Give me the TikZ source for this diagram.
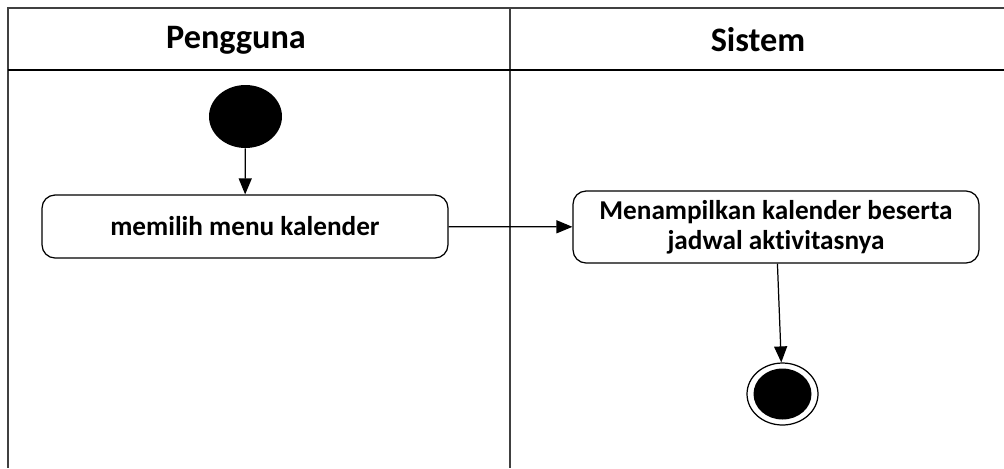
\documentclass[tikz,border=0pt]{standalone}
\usepackage{fontspec}
\setmainfont{Carlito}[Ligatures=CommonOff]
\usetikzlibrary{arrows.meta,shapes.geometric}
\begin{document}
\begin{tikzpicture}[x=0.02cm,y=-0.02cm,
  lane/.style={draw=black!75,line width=1.1pt},
  head/.style={font=\bfseries\fontsize{19.5}{23}\selectfont},
  act/.style={draw,line width=0.7pt,rounded corners=0.26cm,minimum width=8.12cm,
    align=center,font=\bfseries\fontsize{15.5}{17}\selectfont},
  flow/.style={line width=0.7pt,-{Triangle[length=0.32cm,width=0.26cm]}}]
  \useasboundingbox (0,0) rectangle (1004,468);
  \draw[lane] (1004,8) -- (8,8) -- (8,468);
  \draw[lane] (510,8) -- (510,468);
  \draw[line width=1.1pt] (8,70) -- (1004,70);
  \node[head] (pengguna) at (236,40) {Pengguna};
  \node[head] (sistem) at (758,40) {Sistem};
  \node[ellipse,fill,minimum width=1.46cm,minimum height=1.26cm] (mulai) at (245.5,116.5) {};
  \node[act,minimum height=1.26cm] (pilih) at (245,226.5) {memilih menu kalender};
  \node[act,minimum height=1.44cm] (tampil) at (776,227) {Menampilkan kalender beserta\\jadwal aktivitasnya};
  \node[ellipse,draw,line width=0.7pt,minimum width=1.42cm,minimum height=1.24cm] (selesai) at (782.5,394) {};
  \node[ellipse,fill,minimum width=1.16cm,minimum height=1.02cm] at (selesai) {};
  \draw[flow] (mulai) -- (pilih);
  \draw[flow] (pilih) -- (tampil);
  \draw[flow] (tampil) -- (selesai);
\end{tikzpicture}
\end{document}
